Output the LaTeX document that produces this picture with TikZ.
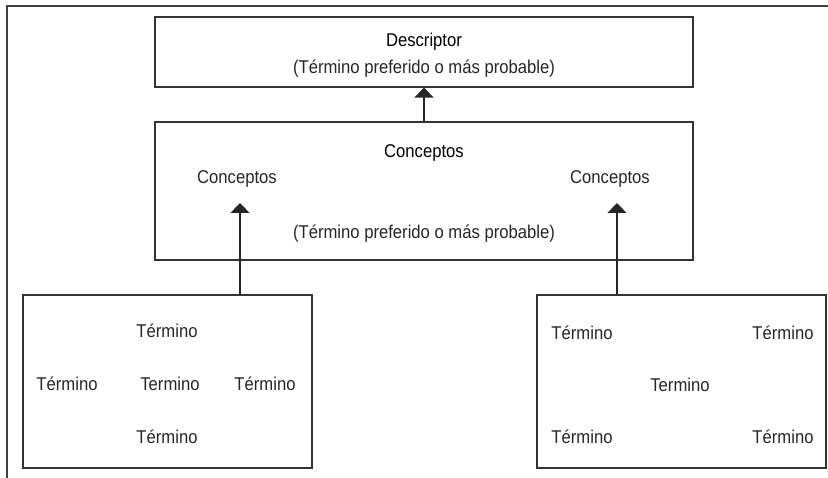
\documentclass[tikz,border=0pt]{standalone}
\usepackage{fontspec}
\setmainfont{Liberation Sans}[FakeStretch=0.9]
\usetikzlibrary{positioning, arrows.meta}

\begin{document}
\begin{tikzpicture}[
         x=1pt, y=-1pt,
         font=\fontsize{18.5}{22}\selectfont,
         frame/.style={draw=black!75, line width=1.4pt},
         box/.style={draw=black!80, line width=1.1pt, inner sep=0pt},
         term/.style={anchor=base, inner sep=0pt, text=black!85},
         heading/.style={term, text=black},
         uparrow/.style={draw=black!85, line width=1.1pt,
            -{Triangle[width=19pt, length=10pt]}}
      ]
         \useasboundingbox (0,0) rectangle (828,478);

         % Outer frame (top and left only)
         \draw[frame] (7,478) -- (7,6) -- (828,6);

         % Boxes
         \node[box, minimum width=538pt, minimum height=70pt] (descbox) at (424,52) {};
         \node[box, minimum width=538pt, minimum height=138pt] (conbox) at (424,191) {};
         \node[box, minimum width=289pt, minimum height=173pt] (leftbox) at (167.5,381.5) {};
         \node[box, minimum width=289pt, minimum height=173pt] (rightbox) at (681.5,381.5) {};

         % Texts of the upper boxes
         \node[heading] (desc) at (424,47) {Descriptor};
         \node[term] (descpref) at (424,74) {(Término preferido o más probable)};
         \node[heading] (con) at (424,158) {Conceptos};
         \node[term] (conleft) at (237,184) {Conceptos};
         \node[term] (conright) at (610,184) {Conceptos};
         \node[term] (conpref) at (424,239) {(Término preferido o más probable)};

         % Terms, left box
         \node[term] (lt) at (167,338) {Término};
         \node[term] (lw) at (67,391) {Término};
         \node[term] (lc) at (170,391) {Termino};
         \node[term] (le) at (265,391) {Término};
         \node[term] (lb) at (167,443) {Término};

         % Terms, right box
         \node[term] (rnw) at (582,340) {Término};
         \node[term] (rne) at (783,340) {Término};
         \node[term] (rc) at (680,392) {Termino};
         \node[term] (rsw) at (582,443) {Término};
         \node[term] (rse) at (783,443) {Término};

         % Arrows
         \coordinate (tipleft) at (240,203);
         \coordinate (tipright) at (617,203);
         \draw[uparrow] (conbox.north) -- (descbox.south);
         \draw[uparrow] (leftbox.north -| tipleft) -- (tipleft);
         \draw[uparrow] (rightbox.north -| tipright) -- (tipright);

      \end{tikzpicture}
\end{document}
